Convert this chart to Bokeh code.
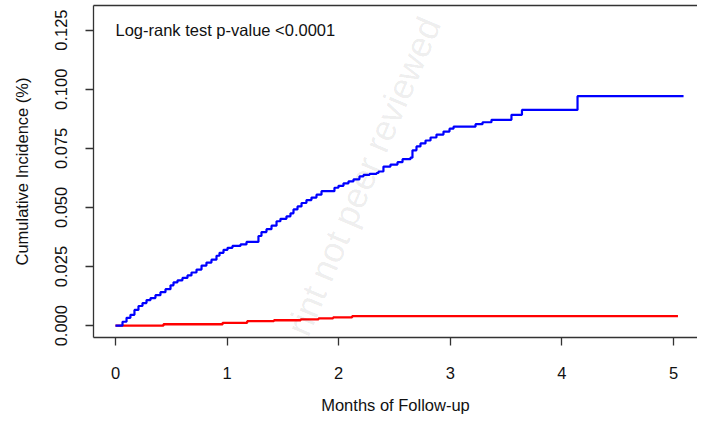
from bokeh.plotting import figure
from bokeh.models import Range1d, FixedTicker, PrintfTickFormatter, LinearAxis, Label
from bokeh.embed import file_html
from bokeh.resources import INLINE

# ---- data ----
blue_months = [0.000, 0.063, 0.099, 0.134, 0.170, 0.206, 0.242, 0.278, 0.314, 0.358,
               0.403, 0.448, 0.493, 0.520, 0.556, 0.600, 0.645, 0.681, 0.726, 0.771,
               0.815, 0.860, 0.905, 0.932, 0.968, 1.004, 1.048, 1.120, 1.174, 1.281,
               1.308, 1.353, 1.398, 1.443, 1.478, 1.532, 1.568, 1.595, 1.631, 1.667,
               1.711, 1.756, 1.801, 1.846, 1.962, 1.998, 2.043, 2.088, 2.133, 2.186,
               2.222, 2.276, 2.339, 2.357, 2.401, 2.464, 2.527, 2.572, 2.643, 2.661,
               2.697, 2.733, 2.778, 2.823, 2.876, 2.939, 2.993, 3.029, 3.226, 3.289,
               3.369, 3.548, 3.642, 4.140, 5.090]
blue_incidence = [0.00000, 0.00167, 0.00333, 0.00458, 0.00667, 0.00833, 0.00958, 0.01083, 0.01167, 0.01292,
                  0.01417, 0.01542, 0.01708, 0.01833, 0.01917, 0.02021, 0.02125, 0.02250, 0.02375, 0.02542,
                  0.02667, 0.02792, 0.02958, 0.03083, 0.03208, 0.03292, 0.03375, 0.03438, 0.03542, 0.03792,
                  0.03958, 0.04083, 0.04229, 0.04417, 0.04521, 0.04625, 0.04750, 0.04917, 0.05042, 0.05188,
                  0.05313, 0.05417, 0.05542, 0.05688, 0.05833, 0.05917, 0.06021, 0.06104, 0.06188, 0.06313,
                  0.06375, 0.06417, 0.06458, 0.06521, 0.06729, 0.06813, 0.06917, 0.07042, 0.07104, 0.07417,
                  0.07583, 0.07708, 0.07833, 0.07958, 0.08083, 0.08208, 0.08333, 0.08417, 0.08521, 0.08604,
                  0.08708, 0.08917, 0.09125, 0.09708, 0.09708]

red_months = [0.00, 0.43, 0.96, 1.18, 1.42, 1.66, 1.82, 1.95, 2.12, 5.04]
red_incidence = [0.0000, 0.0006, 0.0012, 0.0019, 0.0023, 0.0027, 0.0031, 0.0035, 0.0040, 0.0040]

x_ticks = [0, 1, 2, 3, 4, 5]
y_ticks = [0.000, 0.025, 0.050, 0.075, 0.100, 0.125]

x_title = "Months of Follow-up"
y_title = "Cumulative Incidence (%)"
annotation = "Log-rank test p-value <0.0001"
watermark = "rint not peer reviewed"

FONT = "Liberation Sans"
AX = "#333333"
FS = "16.5px"

p = figure(width=697, height=416, output_backend="svg", toolbar_location=None,
           x_range=Range1d(-0.197, 5.215), y_range=Range1d(-0.005, 0.13542),
           min_border_left=93, min_border_right=0, min_border_top=5, min_border_bottom=74)
p.outline_line_color = None
p.outline_line_alpha = 0
p.outline_line_width = 0
p.xgrid.visible = False
p.ygrid.visible = False
p.background_fill_color = "white"
p.border_fill_color = "white"

p.step(red_months, red_incidence, mode="after", line_color="#ff0000", line_width=2.3)
p.step(blue_months, blue_incidence, mode="after", line_color="#0000ff", line_width=2.2)

# faint watermark (semi-transparent so the curves stay visible through it)
wm = Label(x=2.823, y=0.1296, text=watermark, angle=67, angle_units="deg",
           text_align="right", text_baseline="alphabetic",
           text_font=FONT, text_font_size="35.5px", text_color="black",
           text_alpha=0.085, level="overlay")
p.add_layout(wm)

p.add_layout(Label(x=0, y=0.125, text=annotation, text_align="left", text_baseline="middle",
                   text_font=FONT, text_font_size=FS, text_color="#111111"))

xa = p.xaxis[0]
xa.ticker = FixedTicker(ticks=x_ticks)
xa.axis_label = x_title
ya = p.yaxis[0]
ya.ticker = FixedTicker(ticks=y_ticks)
ya.formatter = PrintfTickFormatter(format="%.3f")
ya.axis_label = y_title
ya.major_label_orientation = "vertical"

for ax in (xa, ya):
    ax.axis_line_color = AX
    ax.axis_line_width = 1.3
    ax.major_tick_line_color = AX
    ax.major_tick_line_width = 1.3
    ax.major_tick_out = 8
    ax.major_tick_in = 0
    ax.minor_tick_out = 0
    ax.minor_tick_in = 0
    ax.major_label_text_font = FONT
    ax.major_label_text_font_size = FS
    ax.major_label_text_color = "#111111"
    ax.axis_label_text_font = FONT
    ax.axis_label_text_font_size = FS
    ax.axis_label_text_font_style = "normal"
    ax.axis_label_text_color = "#111111"

xa.major_label_standoff = 21
xa.axis_label_standoff = 14
ya.major_label_standoff = 18
ya.axis_label_standoff = 22

top = LinearAxis(ticker=FixedTicker(ticks=[]), axis_line_color=AX, axis_line_width=1.3,
                 major_tick_out=0, major_tick_in=0, minor_tick_out=0, minor_tick_in=0)
p.add_layout(top, "above")

open("out.html", "w").write(file_html(p, INLINE))
